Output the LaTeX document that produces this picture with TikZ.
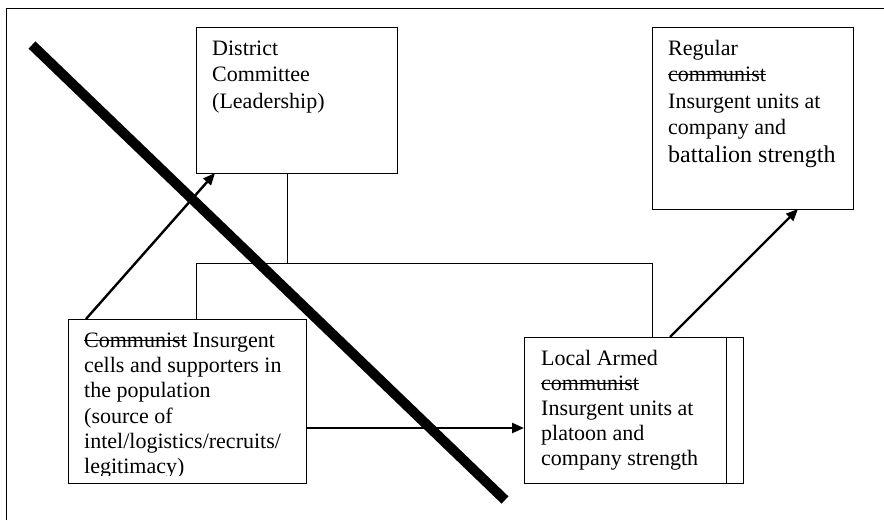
\documentclass[tikz,border=0pt]{standalone}
\usepackage{fontspec}
\setmainfont{Liberation Serif}
\usetikzlibrary{arrows.meta}
\newsavebox\mystrkbox
\newcommand{\mystrk}[1]{\leavevmode\sbox\mystrkbox{#1}\rlap{\rule[0.3em]{\wd\mystrkbox}{0.9pt}}\usebox\mystrkbox}
\begin{document}
\begin{tikzpicture}[x=1pt,y=-1pt,
  box/.style={draw,line width=1pt,inner sep=0pt,outer sep=0pt,anchor=north west},
  txt/.style={anchor=base west,inner sep=0pt,font=\fontsize{22}{26.5}\selectfont},
  txtb/.style={anchor=base west,inner sep=0pt,font=\fontsize{22}{25.2}\selectfont},
  conn/.style={line width=1pt},
  arr/.style={line width=2.4pt,-{Triangle[length=12pt,width=10pt]}},
  bar/.style={line width=10pt}]
\useasboundingbox (0,0) rectangle (884,520);
% outer frame
\draw[line width=1pt] (6,520) -- (6,8) -- (884,8);
% boxes
\node[box,minimum width=201pt,minimum height=146pt] (dc) at (196,27) {};
\node[box,minimum width=201pt,minimum height=182pt] (rg) at (652,27) {};
\node[box,minimum width=238pt,minimum height=164pt] (cl) at (68,319) {};
\node[box,minimum width=219pt,minimum height=146pt] (la) at (524,337) {};
\draw[conn] ([xshift=-17pt]la.north east) -- ([xshift=-17pt]la.south east);
% texts
\node[txt] (dct) at (212,55) {\parbox[t]{180pt}{District\\Committee\\(Leadership)}};
\node[txt] (rgt) at (668,55) {\parbox[t]{185pt}{Regular\\\mystrk{communist}\\Insurgent units at\\company and\\[1.5pt]{\fontsize{24}{28}\selectfont battalion strength}}};
\node[txtb] (lat) at (541,365) {\parbox[t]{185pt}{Local Armed\\\mystrk{communist}\\Insurgent units at\\platoon and\\company strength}};
\begin{scope}
\clip (68,319) rectangle (306,475);
\node[txt,font=\fontsize{22}{25.1}\selectfont] (clt) at (84,347.7) {\parbox[t]{220pt}{\mystrk{Communist} Insurgent\\cells and supporters in\\the population\\(source of\\intel/logistics/recruits/\\legitimacy)}};
\end{scope}
% tree connectors
\draw[conn] ([xshift=91pt]dc.south west) -- ++(0,90);
\draw[conn] ([xshift=128pt]cl.north west) -- ++(0,-56) -| ([xshift=128pt]la.north west);
% arrows
\draw[arr] ([xshift=18pt]cl.north west) -- ([xshift=19pt]dc.south west);
\draw[arr] ([xshift=146pt]la.north west) -- ([xshift=146pt]rg.south west);
\draw[arr] ([yshift=-27pt]cl.east) -- ([yshift=-18pt]la.west);
% crossing bar
\coordinate (b1) at (32,45);
\coordinate (b2) at (505,500);
\draw[bar] (b1) -- (b2);
\end{tikzpicture}
\end{document}
